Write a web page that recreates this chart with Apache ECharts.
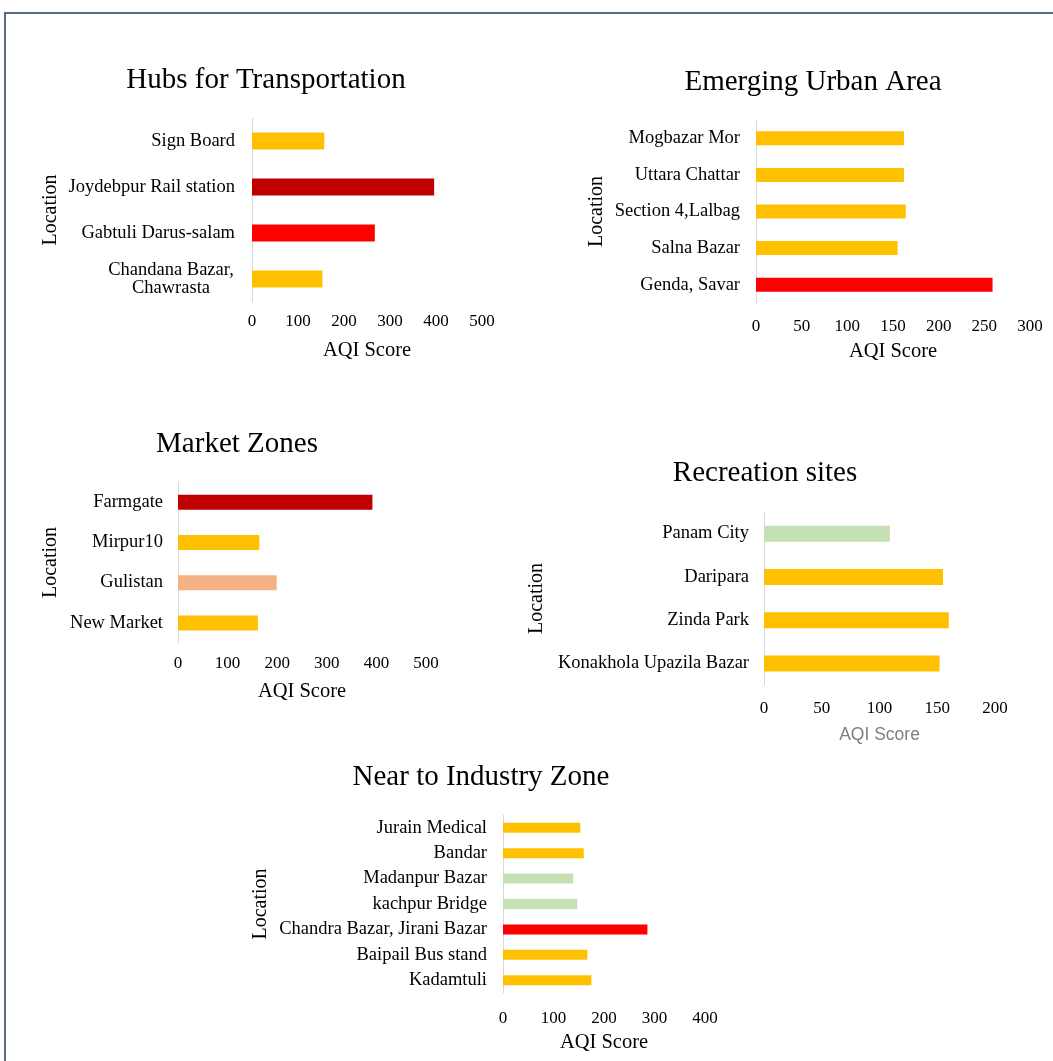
<!DOCTYPE html>
<html>
<head>
<meta charset="utf-8">
<script src="https://cdn.jsdelivr.net/npm/echarts@6/dist/echarts.min.js"></script>
<style>
  html, body { margin: 0; padding: 0; background: #ffffff; }
  #chart { width: 1053px; height: 1061px; }
</style>
</head>
<body>
<div id="chart"></div>
<script>
// ---- AQI scores by location, grouped by area type ----
const hubCategories = ['Sign Board', 'Joydebpur Rail station', 'Gabtuli Darus-salam', 'Chandana Bazar, Chawrasta'];
const hubValues = [157, 396, 267, 153];

const urbanCategories = ['Mogbazar Mor', 'Uttara Chattar', 'Section 4,Lalbag', 'Salna Bazar', 'Genda, Savar'];
const urbanValues = [162, 162, 164, 155, 259];

const marketCategories = ['Farmgate', 'Mirpur10', 'Gulistan', 'New Market'];
const marketValues = [392, 164, 199, 161];

const recreationCategories = ['Panam City', 'Daripara', 'Zinda Park', 'Konakhola Upazila Bazar'];
const recreationValues = [109, 155, 160, 152];

const industryCategories = ['Jurain Medical', 'Bandar', 'Madanpur Bazar', 'kachpur Bridge', 'Chandra Bazar, Jirani Bazar', 'Baipail Bus stand', 'Kadamtuli'];
const industryValues = [153, 160, 139, 147, 286, 167, 175];

// value-axis tick labels for each panel
const hubTicks = [0, 100, 200, 300, 400, 500];
const urbanTicks = [0, 50, 100, 150, 200, 250, 300];
const marketTicks = [0, 100, 200, 300, 400, 500];
const recreationTicks = [0, 50, 100, 150, 200];
const industryTicks = [0, 100, 200, 300, 400];

// ---- bar colour per air-quality band ----
const palette = {
  good: '#C5E0B4',
  moderate: '#FFC000',
  elevated: '#F4B183',
  high: '#FF0000',
  severe: '#C00000'
};
const hubBands = ['moderate', 'severe', 'high', 'moderate'];
const urbanBands = ['moderate', 'moderate', 'moderate', 'moderate', 'high'];
const marketBands = ['severe', 'moderate', 'elevated', 'moderate'];
const recreationBands = ['good', 'moderate', 'moderate', 'moderate'];
const industryBands = ['moderate', 'moderate', 'good', 'good', 'high', 'moderate', 'moderate'];

const SERIF = '"Liberation Serif", "Times New Roman", serif';
const TXT = '#000000';

// layout for each panel: plot box + text offsets
const panels = [
  { title: 'Hubs for Transportation', cats: hubCategories, vals: hubValues, bands: hubBands, ticks: hubTicks,
    grid: { left: 252, top: 118, width: 230, height: 184 }, titlePos: [261, 61],
    barWidth: 17, labelMargin: 17, tickMargin: 11, nameGap: 38, locGap: 191, sansName: false },
  { title: 'Emerging Urban Area', cats: urbanCategories, vals: urbanValues, bands: urbanBands, ticks: urbanTicks,
    grid: { left: 756, top: 120, width: 274, height: 183 }, titlePos: [808, 63],
    barWidth: 14, labelMargin: 16, tickMargin: 15, nameGap: 38, locGap: 149, sansName: false },
  { title: 'Market Zones', cats: marketCategories, vals: marketValues, bands: marketBands, ticks: marketTicks,
    grid: { left: 178, top: 482, width: 248, height: 161 }, titlePos: [232, 425],
    barWidth: 15, labelMargin: 15, tickMargin: 12, nameGap: 38, locGap: 117, sansName: false },
  { title: 'Recreation sites', cats: recreationCategories, vals: recreationValues, bands: recreationBands, ticks: recreationTicks,
    grid: { left: 764, top: 512, width: 231, height: 173 }, titlePos: [760, 454],
    barWidth: 16, labelMargin: 15, tickMargin: 15, nameGap: 41, locGap: 217, sansName: true },
  { title: 'Near to Industry Zone', cats: industryCategories, vals: industryValues, bands: industryBands, ticks: industryTicks,
    grid: { left: 503, top: 815, width: 202, height: 178 }, titlePos: [476, 758],
    barWidth: 10, labelMargin: 16, tickMargin: 17, nameGap: 39, locGap: 232, sansName: false }
];

const option = {
  backgroundColor: '#ffffff',
  animation: false,
  title: panels.map(p => ({
    text: p.title,
    left: p.titlePos[0],
    top: p.titlePos[1],
    textAlign: 'center',
    textStyle: { fontFamily: SERIF, fontSize: 29, fontWeight: 'normal', color: TXT }
  })),
  grid: panels.map(p => Object.assign({ containLabel: false }, p.grid)),
  xAxis: panels.map((p, i) => ({
    type: 'value',
    gridIndex: i,
    min: p.ticks[0],
    max: p.ticks[p.ticks.length - 1],
    interval: p.ticks[1] - p.ticks[0],
    name: 'AQI Score',
    nameLocation: 'middle',
    nameGap: p.nameGap,
    nameTextStyle: p.sansName
      ? { fontFamily: '"Liberation Sans", Arial, sans-serif', fontSize: 17.5, color: '#7f7f7f', verticalAlign: 'top' }
      : { fontFamily: SERIF, fontSize: 20.5, color: TXT, verticalAlign: 'top' },
    axisLine: { show: false },
    axisTick: { show: false },
    splitLine: { show: false },
    axisLabel: { fontFamily: SERIF, fontSize: 17, color: TXT, margin: p.tickMargin }
  })),
  yAxis: panels.map((p, i) => ({
    type: 'category',
    gridIndex: i,
    data: p.cats,
    inverse: true,
    name: 'Location',
    nameLocation: 'middle',
    nameRotate: 90,
    nameGap: p.locGap,
    nameTextStyle: { fontFamily: SERIF, fontSize: 20, color: TXT },
    axisLine: { show: true, lineStyle: { color: '#d9d9d9', width: 1 } },
    axisTick: { show: false },
    splitLine: { show: false },
    axisLabel: {
      fontFamily: SERIF,
      fontSize: 18.5,
      color: TXT,
      margin: p.labelMargin,
      formatter: function (v) {
        if (v === 'Chandana Bazar, Chawrasta') {
          return '{w|Chandana Bazar,}\n{w|Chawrasta}';
        }
        return v;
      },
      rich: {
        w: { fontFamily: SERIF, fontSize: 18.5, color: TXT, width: 128, align: 'center', lineHeight: 18 }
      }
    }
  })),
  series: panels.map((p, i) => ({
    type: 'bar',
    xAxisIndex: i,
    yAxisIndex: i,
    barWidth: p.barWidth,
    data: p.vals.map((v, k) => ({ value: v, itemStyle: { color: palette[p.bands[k]] } }))
  })),
  graphic: [
    {
      type: 'polyline',
      shape: { points: [[5, 1061], [5, 13], [1053, 13]] },
      style: { stroke: '#5b6b7f', lineWidth: 2, fill: null },
      silent: true
    }
  ]
};

const chart = echarts.init(document.getElementById('chart'), null, { renderer: 'canvas' });
chart.setOption(option);
</script>
</body>
</html>
